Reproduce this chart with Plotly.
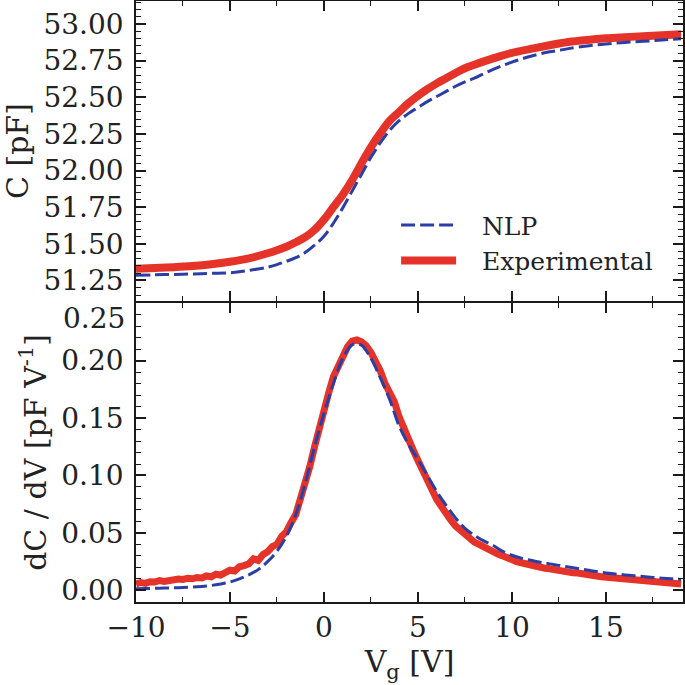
import plotly.graph_objects as go
from plotly.subplots import make_subplots

# ---------------- data ----------------
# Top panel: capacitance C [pF] vs gate voltage
c_exp_v = [-10, -9, -8, -7, -6, -5, -4, -3, -2.5, -2, -1.5, -1, -0.5, 0, 0.5, 1, 1.5, 2,
           2.5, 3, 3.5, 4, 4.5, 5, 5.5, 6, 6.5, 7, 7.5, 8, 9, 10, 11, 12, 12.5, 13, 14, 15,
           16, 17, 18, 19]
c_exp = [51.329, 51.334, 51.340, 51.348, 51.360, 51.377, 51.400, 51.435, 51.456, 51.480,
         51.510, 51.545, 51.595, 51.665, 51.750, 51.835, 51.935, 52.050, 52.160, 52.255,
         52.340, 52.400, 52.460, 52.510, 52.555, 52.595, 52.630, 52.665, 52.698, 52.722,
         52.765, 52.803, 52.830, 52.855, 52.867, 52.877, 52.891, 52.902, 52.910, 52.917,
         52.924, 52.930]

c_nlp_v = [-10, -9, -8, -7, -6, -5, -4, -3, -2.5, -2, -1.5, -1, -0.5, 0, 0.5, 1, 1.5, 2,
           2.5, 3, 3.5, 4, 4.5, 5, 5.5, 6, 6.5, 7, 7.5, 8, 9, 10, 11, 12, 12.5, 13, 14, 15,
           16, 17, 18, 19]
c_nlp = [51.285, 51.288, 51.291, 51.294, 51.298, 51.302, 51.318, 51.340, 51.358, 51.380,
         51.405, 51.440, 51.490, 51.551, 51.640, 51.745, 51.860, 51.975, 52.090, 52.190,
         52.275, 52.340, 52.390, 52.430, 52.470, 52.505, 52.540, 52.575, 52.605, 52.630,
         52.690, 52.740, 52.780, 52.810, 52.820, 52.832, 52.850, 52.863, 52.874, 52.882,
         52.891, 52.900]

# Bottom panel: dC/dV [pF/V]
dcdv_nlp_v = [-10, -9.5, -9, -8.5, -8, -7.5, -7, -6.5, -6, -5.5, -5, -4.5, -4, -3.5, -3,
              -2.5, -2, -1.5, -1, -0.5, 0, 0.5, 1, 1.5, 1.75, 2, 2.5, 3, 3.5, 4, 4.5, 5,
              5.5, 6, 6.5, 7, 7.5, 8, 8.5, 9, 9.5, 10, 10.5, 11, 11.5, 12, 12.5, 13, 13.5,
              14, 14.5, 15, 15.5, 16, 16.5, 17, 17.5, 18, 18.5, 19]
dcdv_nlp = [0.0014, 0.0015, 0.0017, 0.0019, 0.0021, 0.0024, 0.0028, 0.0034, 0.0042, 0.0055,
            0.0072, 0.0100, 0.0135, 0.0180, 0.0250, 0.0340, 0.0470, 0.0660, 0.0930, 0.1250,
            0.1540, 0.1800, 0.2020, 0.2138, 0.2145, 0.2135, 0.2020, 0.1850, 0.1660, 0.1430,
            0.1270, 0.1140, 0.1000, 0.0860, 0.0740, 0.0630, 0.0540, 0.0480, 0.0430, 0.0390,
            0.0340, 0.0305, 0.0280, 0.0262, 0.0245, 0.0230, 0.0217, 0.0203, 0.0190, 0.0177,
            0.0163, 0.0151, 0.0142, 0.0134, 0.0127, 0.0120, 0.0112, 0.0106, 0.0100, 0.0095]

dcdv_exp_v = [-10.00, -9.75, -9.50, -9.25, -9.00, -8.75, -8.50, -8.25, -8.00, -7.75, -7.50,
              -7.25, -7.00, -6.75, -6.50, -6.25, -6.00, -5.75, -5.50, -5.25, -5.00, -4.75,
              -4.50, -4.25, -4.00, -3.75, -3.50, -3.25, -3.00, -2.75, -2.50, -2.25, -2.00,
              -1.75, -1.50, -1.25, -1.00, -0.75, -0.50, -0.25, 0.00, 0.25, 0.50, 0.75, 1.00,
              1.25, 1.50, 1.75, 2.00, 2.25, 2.50, 2.75, 3.00, 3.25, 3.50, 3.75, 4.00, 4.25,
              4.50, 4.75, 5.00, 5.25, 5.50, 5.75, 6.00, 6.25, 6.50, 6.75, 7.00, 7.25, 7.50,
              7.75, 8.00, 8.25, 8.50, 8.75, 9.00, 9.25, 9.50, 9.75, 10.00, 10.25, 10.50,
              10.75, 11.00, 11.25, 11.50, 11.75, 12.00, 12.25, 12.50, 12.75, 13.00, 13.25,
              13.50, 13.75, 14.00, 14.25, 14.50, 14.75, 15.00, 15.25, 15.50, 15.75, 16.00,
              16.25, 16.50, 16.75, 17.00, 17.25, 17.50, 17.75, 18.00, 18.25, 18.50, 18.75,
              19.00]
dcdv_exp = [0.0055, 0.0068, 0.0060, 0.0075, 0.0072, 0.0085, 0.0078, 0.0090, 0.0086, 0.0098,
            0.0094, 0.0105, 0.0100, 0.0112, 0.0108, 0.0125, 0.0118, 0.0140, 0.0132, 0.0160,
            0.0175, 0.0168, 0.0205, 0.0215, 0.0230, 0.0275, 0.0260, 0.0310, 0.0335, 0.0380,
            0.0400, 0.0470, 0.0510, 0.0590, 0.0660, 0.0800, 0.0920, 0.1080, 0.1250, 0.1420,
            0.1570, 0.1720, 0.1860, 0.1960, 0.2060, 0.2120, 0.2170, 0.2180, 0.2165, 0.2130,
            0.2070, 0.2000, 0.1910, 0.1800, 0.1720, 0.1640, 0.1510, 0.1400, 0.1320, 0.1220,
            0.1130, 0.1040, 0.0950, 0.0880, 0.0790, 0.0730, 0.0660, 0.0610, 0.0560, 0.0520,
            0.0480, 0.0455, 0.0420, 0.0400, 0.0375, 0.0350, 0.0335, 0.0315, 0.0300, 0.0280,
            0.0265, 0.0250, 0.0240, 0.0228, 0.0220, 0.0210, 0.0205, 0.0192, 0.0188, 0.0178,
            0.0175, 0.0165, 0.0160, 0.0152, 0.0150, 0.0140, 0.0138, 0.0128, 0.0125, 0.0118,
            0.0115, 0.0108, 0.0105, 0.0098, 0.0096, 0.0090, 0.0088, 0.0082, 0.0080, 0.0076,
            0.0073, 0.0068, 0.0066, 0.0062, 0.0060, 0.0057, 0.0055]

x_ticks = [-10, -5, 0, 5, 10, 15]
c_ticks = [51.25, 51.50, 51.75, 52.00, 52.25, 52.50, 52.75, 53.00]
d_ticks = [0.00, 0.05, 0.10, 0.15, 0.20, 0.25]
d_ticktext = ["0.00", "0.05", "0.10", "0.15", "0.20", ""]

# ---------------- styling ----------------
RED = "#e5332a"
BLUE = "#2b3ea6"
FONT = "DejaVu Serif"
AXC = "#1a1a1a"
TXT = "#222222"
TICK_SIZE = 28
TITLE_SIZE = 30
PAD = "\u00a0\u00a0\u2009"  # gap between legend sample and its text

fig = make_subplots(rows=2, cols=1, shared_xaxes=True, vertical_spacing=0.0)

fig.add_trace(go.Scatter(x=c_exp_v, y=c_exp, mode="lines", name=PAD + "Experimental",
                         line=dict(color=RED, width=8, shape="spline"), showlegend=True,
                         legendrank=2), row=1, col=1)
fig.add_trace(go.Scatter(x=c_nlp_v, y=c_nlp, mode="lines", name=PAD + "NLP",
                         line=dict(color=BLUE, width=3, dash="14px,5px", shape="spline"),
                         legendrank=1), row=1, col=1)
fig.add_trace(go.Scatter(x=dcdv_exp_v, y=dcdv_exp, mode="lines", name="Experimental",
                         line=dict(color=RED, width=7), showlegend=False), row=2, col=1)
fig.add_trace(go.Scatter(x=dcdv_nlp_v, y=dcdv_nlp, mode="lines", name="NLP",
                         line=dict(color=BLUE, width=3, dash="14px,5px", shape="spline"),
                         showlegend=False), row=2, col=1)

common_axis = dict(showline=True, linecolor=AXC, linewidth=1.6, mirror="allticks",
                   ticks="inside", ticklen=10, tickwidth=1.6, tickcolor=AXC,
                   showgrid=False, zeroline=False, automargin=False,
                   tickfont=dict(family=FONT, size=TICK_SIZE, color=TXT))

fig.update_xaxes(**common_axis, range=[-10, 19.1], tickvals=x_ticks,
                 minor=dict(dtick=2.5, tick0=0, ticks="inside", ticklen=5, tickwidth=1.4,
                            tickcolor=AXC))
fig.update_xaxes(showticklabels=False, row=1, col=1)
fig.update_xaxes(title=dict(text="V<sub>g</sub> [V]",
                            font=dict(family=FONT, size=TITLE_SIZE, color=TXT),
                            standoff=4), row=2, col=1)

fig.update_yaxes(**common_axis, row=1, col=1, range=[51.108, 53.157], tickvals=c_ticks,
                 tickformat=".2f", ticklabelstandoff=5,
                 minor=dict(dtick=0.05, tick0=51.0, ticks="inside", ticklen=5, tickwidth=1.4,
                            tickcolor=AXC),
                 title=dict(text="C [pF]", font=dict(family=FONT, size=TITLE_SIZE, color=TXT),
                            standoff=6))
fig.update_yaxes(**common_axis, row=2, col=1, range=[-0.0102, 0.2504], tickvals=d_ticks,
                 ticktext=d_ticktext, ticklabelstandoff=5,
                 minor=dict(dtick=0.01, tick0=0, ticks="inside", ticklen=5, tickwidth=1.4,
                            tickcolor=AXC),
                 title=dict(text="dC / dV [pF V<sup>-1</sup>]",
                            font=dict(family=FONT, size=TITLE_SIZE, color=TXT), standoff=6))

fig.add_annotation(text="0.25", xref="paper", yref="y2", x=0, y=0.2504, xanchor="right",
                   yanchor="top", xshift=-9, yshift=3, showarrow=False,
                   font=dict(family=FONT, size=TICK_SIZE, color=TXT))

fig.update_layout(
    width=685, height=685,
    margin=dict(l=136, r=2, t=1, b=83, autoexpand=False),
    paper_bgcolor="white", plot_bgcolor="white",
    font=dict(family=FONT, color=TXT),
    legend=dict(x=0.4755, y=0.665, xanchor="left", yanchor="top",
                bgcolor="rgba(0,0,0,0)", font=dict(family=FONT, size=25, color=TXT),
                traceorder="normal", itemwidth=55, tracegroupgap=0),
)
fig.update_yaxes(domain=[0.5005, 1.0], row=1, col=1)
fig.update_yaxes(domain=[0.0, 0.4978], row=2, col=1)

fig.write_html("out.html", config={"displayModeBar": False},
               post_script="document.body.style.margin='0';document.body.style.padding='0';")
